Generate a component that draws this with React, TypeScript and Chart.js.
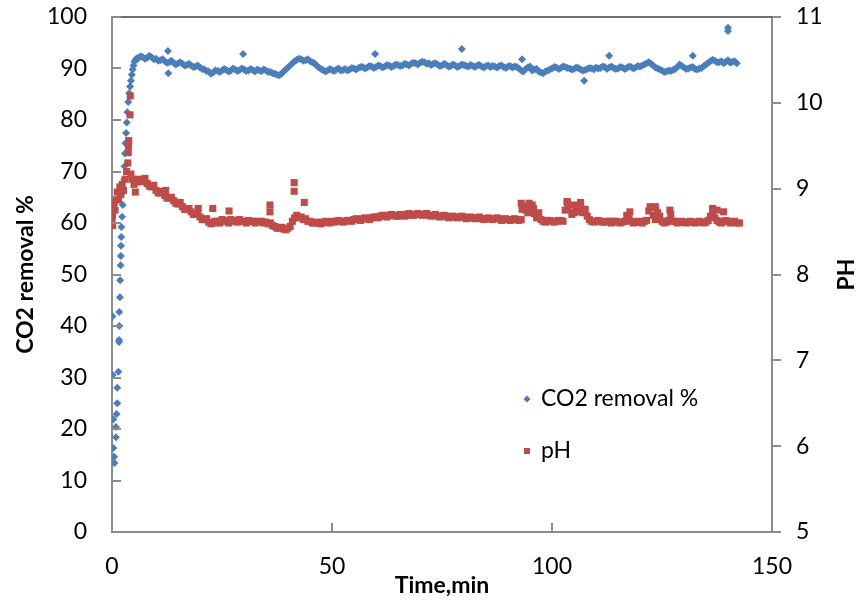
import React, { useEffect, useRef } from 'react';
import { Chart, registerables } from 'chart.js';

Chart.register(...registerables);

const FONT = 'Lato, "Open Sans", sans-serif';
const BLUE = '#4A7EBB';
const RED = '#BE4B48';
const AXIS = '#8C8C8C';

// CO2 removal (%) during start-up (minutes, value)
const startTimeCO2 = [
  0.0, 0.05, 0.15, 0.3, 0.3, 0.5, 0.55, 0.9, 0.9, 1.05, 1.2, 1.2, 1.45, 1.6, 1.6, 1.65, 1.65, 1.8, 1.85,
  1.95, 2.0, 2.05, 2.1, 2.15, 2.3, 2.45, 2.6, 2.75, 2.85, 2.95, 3.05, 3.2, 3.35, 3.5, 3.7, 3.9, 4.1,
  4.3, 4.5, 4.7, 4.9, 5.1, 5.4, 5.7,
];
const startCO2 = [
  42.0, 41.8, 30.5, 21.9, 16.3, 14.6, 13.4, 20.4, 18.4, 22.9, 25.0, 28.0, 31.1, 36.9, 37.3, 40.0, 42.7, 45.6, 48.9,
  51.8, 53.6, 55.6, 57.3, 59.2, 61.2, 63.5, 66.0, 68.5, 71.0, 73.5, 75.5, 77.5, 79.5, 81.5, 83.5, 85.2, 86.5,
  87.6, 88.8, 89.8, 90.6, 91.3, 91.8, 92.0,
];

// Readings on the whole minute, from minute 6 to minute 142
const firstMinute = 6;
const minuteCO2 = [
  92.0, 92.2, 92.1, 92.2, 91.9, 91.6, 91.4, 91.2, 91.1, 91.0, // 6-15
  90.9, 90.7, 90.6, 90.4, 90.2, 89.8, 89.4, 89.2, 89.5, 89.6, // 16-25
  89.7, 89.6, 89.8, 89.7, 89.8, 89.6, 89.7, 89.8, 89.5, 89.6, // 26-35
  89.3, 89.0, 88.7, 89.4, 90.2, 91.0, 91.7, 91.8, 91.6, 91.4, // 36-45
  91.0, 90.2, 89.7, 89.6, 89.7, 89.8, 89.6, 89.9, 89.8, 90.0, // 46-55
  90.1, 90.3, 90.2, 90.4, 90.3, 90.5, 90.4, 90.6, 90.5, 90.7, // 56-65
  90.6, 90.8, 90.9, 91.0, 91.1, 91.2, 91.0, 90.9, 90.8, 90.6, // 66-75
  90.7, 90.5, 90.6, 90.5, 90.7, 90.4, 90.5, 90.6, 90.4, 90.5, // 76-85
  90.3, 90.4, 90.5, 90.3, 90.4, 90.2, 90.3, 89.6, 89.9, 90.4, // 86-95
  89.8, 89.4, 89.1, 89.6, 90.0, 90.2, 90.1, 90.3, 90.0, 89.9, // 96-105
  90.1, 89.6, 89.9, 90.0, 90.2, 90.1, 90.3, 90.2, 90.1, 90.0, // 106-115
  90.2, 90.1, 90.3, 90.2, 90.4, 90.8, 91.2, 90.6, 90.0, 89.6, // 116-125
  89.4, 89.5, 89.9, 90.8, 90.2, 90.0, 90.3, 89.8, 90.1, 90.8, // 126-135
  91.4, 91.5, 91.2, 91.0, 91.6, 91.3, 91.0,                   // 136-142
];
// Readings on the half minute, from 6.5 to 141.5
const halfMinuteCO2 = [
  92.4, 91.9, 92.5, 91.8, 91.5, 91.8, 91.1, 91.5, 90.8, 91.2, // 6.5-15.5
  90.6, 90.9, 90.3, 90.6, 89.9, 89.5, 89.0, 89.6, 89.3, 89.9, // 16.5-25.5
  89.4, 90.0, 89.5, 90.0, 89.5, 89.9, 89.4, 89.6, 89.8, 89.3, // 26.5-35.5
  89.1, 88.8, 89.0, 89.8, 90.6, 91.4, 91.9, 91.5, 91.8, 91.2, // 36.5-45.5
  90.6, 89.9, 89.4, 89.9, 89.5, 90.0, 89.7, 89.6, 90.1, 89.8, // 46.5-55.5
  90.3, 90.0, 90.5, 90.1, 90.6, 90.2, 90.7, 90.3, 90.8, 90.5, // 56.5-65.5
  90.9, 90.6, 91.1, 90.8, 91.3, 90.9, 90.7, 91.0, 90.5, 90.9, // 66.5-75.5
  90.4, 90.8, 90.3, 90.8, 90.5, 90.7, 90.3, 90.7, 90.2, 90.6, // 76.5-85.5
  90.5, 90.2, 90.6, 90.1, 90.5, 90.4, 90.0, 89.4, 90.2, 89.6, // 86.5-95.5
  89.9, 89.2, 89.4, 89.8, 90.3, 89.9, 90.4, 90.1, 89.8, 90.2, // 96.5-105.5
  89.8, 89.7, 90.1, 89.8, 90.0, 90.4, 89.9, 90.4, 89.9, 90.3, // 106.5-115.5
  89.9, 90.4, 90.0, 90.5, 90.6, 91.0, 90.9, 90.2, 89.8, 89.3, // 116.5-125.5
  89.6, 89.7, 90.3, 90.5, 89.9, 90.2, 89.9, 90.0, 90.5, 91.1, // 126.5-135.5
  91.7, 91.2, 91.4, 91.3, 91.1, 91.4,                         // 136.5-141.5
];

// Isolated CO2 readings off the main trend
const strayTimeCO2 = [12.7, 12.8, 29.8, 59.8, 79.5, 93.2, 107.3, 113.0, 132.0, 140.0, 140.0];
const strayCO2 = [93.4, 89.1, 92.8, 92.8, 93.8, 91.8, 87.6, 92.5, 92.5, 97.9, 97.3];

// pH during start-up
const startTimePH = [
  0.0, 0.0, 0.1, 0.15, 0.3, 0.5, 0.7, 1.0, 1.2, 1.5, 1.8, 2.0, 2.3, 2.6, 3.0, 3.3, 3.6, 3.7,
  3.75, 3.8, 4.1, 4.15, 4.3, 4.6, 5.0, 5.3, 5.6,
];
const startPH = [
  8.63, 8.75, 8.69, 8.57, 8.78, 8.84, 8.75, 8.87, 8.96, 8.87, 9.02, 8.93, 9.05, 8.98, 9.11, 9.2, 9.3, 9.42,
  9.5, 9.56, 9.86, 10.08, 9.17, 9.11, 9.05, 8.96, 9.08,
];

// pH on the whole minute, from minute 6 to minute 142
const minutePH = [
  9.11, 9.09, 9.06, 9.02, 8.98, 8.95, 8.92, 8.89, 8.86, 8.82, // 6-15
  8.79, 8.76, 8.73, 8.70, 8.67, 8.64, 8.61, 8.60, 8.62, 8.64, // 16-25
  8.63, 8.64, 8.63, 8.64, 8.62, 8.63, 8.62, 8.62, 8.62, 8.61, // 26-35
  8.60, 8.56, 8.54, 8.53, 8.54, 8.62, 8.69, 8.67, 8.65, 8.62, // 36-45
  8.60, 8.60, 8.61, 8.61, 8.62, 8.62, 8.62, 8.62, 8.63, 8.64, // 46-55
  8.64, 8.65, 8.65, 8.66, 8.67, 8.68, 8.68, 8.69, 8.69, 8.68, // 56-65
  8.69, 8.70, 8.69, 8.70, 8.70, 8.70, 8.69, 8.69, 8.68, 8.68, // 66-75
  8.68, 8.67, 8.67, 8.67, 8.67, 8.66, 8.66, 8.66, 8.65, 8.65, // 76-85
  8.65, 8.65, 8.65, 8.64, 8.64, 8.64, 8.64, 8.64, 8.75, 8.78, // 86-95
  8.71, 8.72, 8.62, 8.63, 8.62, 8.62, 8.63, 8.75, 8.81, 8.72, // 96-105
  8.78, 8.72, 8.68, 8.62, 8.62, 8.62, 8.61, 8.62, 8.62, 8.61, // 106-115
  8.61, 8.69, 8.62, 8.61, 8.61, 8.62, 8.74, 8.69, 8.72, 8.62, // 116-125
  8.61, 8.70, 8.62, 8.61, 8.61, 8.61, 8.61, 8.61, 8.61, 8.61, // 126-135
  8.68, 8.66, 8.61, 8.62, 8.62, 8.61, 8.60,                   // 136-142
];
// pH on the half minute, from 6.5 to 141.5
const halfMinutePH = [
  9.08, 9.12, 9.03, 9.04, 8.95, 8.97, 8.89, 8.90, 8.83, 8.84, // 6.5-15.5
  8.76, 8.77, 8.70, 8.71, 8.64, 8.65, 8.59, 8.62, 8.60, 8.62, // 16.5-25.5
  8.60, 8.62, 8.61, 8.62, 8.60, 8.62, 8.60, 8.61, 8.60, 8.59, // 26.5-35.5
  8.57, 8.54, 8.55, 8.52, 8.56, 8.66, 8.66, 8.64, 8.62, 8.60, // 36.5-45.5
  8.61, 8.59, 8.62, 8.60, 8.61, 8.63, 8.61, 8.63, 8.62, 8.65, // 46.5-55.5
  8.63, 8.66, 8.64, 8.67, 8.66, 8.69, 8.67, 8.70, 8.68, 8.70, // 56.5-65.5
  8.68, 8.71, 8.69, 8.71, 8.69, 8.71, 8.68, 8.70, 8.67, 8.69, // 66.5-75.5
  8.66, 8.68, 8.66, 8.68, 8.65, 8.67, 8.65, 8.67, 8.64, 8.66, // 76.5-85.5
  8.64, 8.66, 8.63, 8.65, 8.63, 8.65, 8.63, 8.80, 8.72, 8.81, // 86.5-95.5
  8.66, 8.64, 8.61, 8.63, 8.61, 8.63, 8.62, 8.84, 8.70, 8.79, // 96.5-105.5
  8.73, 8.76, 8.64, 8.61, 8.63, 8.61, 8.62, 8.60, 8.62, 8.60, // 106.5-115.5
  8.62, 8.65, 8.60, 8.62, 8.60, 8.63, 8.78, 8.64, 8.68, 8.60, // 116.5-125.5
  8.63, 8.62, 8.60, 8.62, 8.60, 8.62, 8.60, 8.62, 8.60, 8.63, // 126.5-135.5
  8.73, 8.63, 8.60, 8.63, 8.60, 8.62,                         // 136.5-141.5
];

// Short pH excursions
const spikeTimePH = [
  12.2, 19.6, 22.9, 26.6, 35.9, 35.9, 41.4, 41.4, 43.7, 93.0, 93.2, 94.8, 95.8, 103.4, 103.6, 105.5,
  106.5, 107.5, 117.7, 122.3, 123.5, 126.8, 136.5, 137.5, 139.0, 142.6,
];
const spikePH = [
  8.98, 8.77, 8.77, 8.74, 8.81, 8.73, 9.07, 8.97, 8.84, 8.83, 8.76, 8.83, 8.77, 8.85, 8.77, 8.81,
  8.84, 8.75, 8.73, 8.79, 8.79, 8.75, 8.77, 8.75, 8.73, 8.60,
];

const xTicks = [0, 50, 100, 150];

type Pt = { x: number; y: number };

function buildPoints(
  startT: number[],
  startV: number[],
  perMinute: number[],
  perHalfMinute: number[],
  extraT: number[],
  extraV: number[],
): Pt[] {
  const pts: Pt[] = [];
  startT.forEach((t, i) => pts.push({ x: t, y: startV[i] }));
  perMinute.forEach((v, i) => pts.push({ x: firstMinute + i, y: v }));
  perHalfMinute.forEach((v, i) => pts.push({ x: firstMinute + 0.5 + i, y: v }));
  extraT.forEach((t, i) => pts.push({ x: t, y: extraV[i] }));
  return pts;
}

// Inward tick marks on the left and bottom axes, the frame line along the top,
// the secondary axis title and the legend
const frameDecor = {
  id: 'frameDecor',
  afterDatasetsDraw(chart: any) {
    const { ctx, chartArea, scales } = chart;
    const { left, right, top, bottom } = chartArea;
    ctx.save();
    ctx.strokeStyle = AXIS;
    ctx.lineWidth = 2;
    scales.y.ticks.forEach((t: any) => {
      const py = Math.round(scales.y.getPixelForValue(t.value));
      ctx.beginPath();
      ctx.moveTo(left, py);
      ctx.lineTo(left + 9, py);
      ctx.stroke();
    });
    scales.x.ticks.forEach((t: any) => {
      const px = Math.round(scales.x.getPixelForValue(t.value));
      ctx.beginPath();
      ctx.moveTo(px, bottom);
      ctx.lineTo(px, bottom - 9);
      ctx.stroke();
    });
    ctx.strokeStyle = '#404040';
    ctx.lineWidth = 1.5;
    ctx.beginPath();
    ctx.moveTo(left + 9, top);
    ctx.lineTo(right, top);
    ctx.stroke();
    ctx.restore();
  },
  afterDraw(chart: any) {
    const { ctx, chartArea } = chart;
    ctx.save();
    ctx.font = `bold 23px ${FONT}`;
    ctx.fillStyle = '#000';
    ctx.textAlign = 'center';
    ctx.textBaseline = 'middle';
    ctx.translate(847, (chartArea.top + chartArea.bottom) / 2);
    ctx.rotate(-Math.PI / 2);
    ctx.fillText('PH', 0, 0);
    ctx.restore();

    ctx.save();
    ctx.font = `23px ${FONT}`;
    ctx.textAlign = 'left';
    ctx.textBaseline = 'middle';
    const items = [
      { label: 'CO2 removal %', color: BLUE, shape: 'diamond', y: 399 },
      { label: 'pH', color: RED, shape: 'square', y: 451 },
    ];
    items.forEach((it) => {
      ctx.fillStyle = it.color;
      ctx.beginPath();
      if (it.shape === 'diamond') {
        ctx.moveTo(527, it.y - 3.5);
        ctx.lineTo(530.5, it.y);
        ctx.lineTo(527, it.y + 3.5);
        ctx.lineTo(523.5, it.y);
        ctx.closePath();
      } else {
        ctx.rect(524, it.y - 3, 6, 6);
      }
      ctx.fill();
      ctx.fillStyle = '#000';
      ctx.fillText(it.label, 541, it.y);
    });
    ctx.restore();
  },
};

// Fix the axis boxes so the plot area sits at a set place on the canvas
const fixVertical = (width: number) => (s: any) => {
  s.width = width;
  s.paddingTop = 0;
  s.paddingBottom = 0;
};
const fixHorizontal = (height: number) => (s: any) => {
  s.height = height;
  s.paddingLeft = 0;
  s.paddingRight = 0;
};

export default function App() {
  const canvasRef = useRef<HTMLCanvasElement>(null);

  useEffect(() => {
    if (!canvasRef.current) return;
    const co2Points = buildPoints(startTimeCO2, startCO2, minuteCO2, halfMinuteCO2, strayTimeCO2, strayCO2);
    const phPoints = buildPoints(startTimePH, startPH, minutePH, halfMinutePH, spikeTimePH, spikePH);

    const chart = new Chart(canvasRef.current, {
      type: 'scatter',
      data: {
        datasets: [
          {
            label: 'CO2 removal %',
            data: co2Points,
            yAxisID: 'y',
            order: 2,
            pointStyle: 'rectRot',
            pointRadius: 4,
            pointHoverRadius: 4,
            backgroundColor: BLUE,
            borderColor: BLUE,
            borderWidth: 0,
          },
          {
            label: 'pH',
            data: phPoints,
            yAxisID: 'y1',
            order: 1,
            pointStyle: 'rect',
            pointRadius: 5,
            pointHoverRadius: 5,
            backgroundColor: RED,
            borderColor: RED,
            borderWidth: 0,
          },
        ],
      },
      options: {
        responsive: false,
        animation: false,
        layout: { autoPadding: false, padding: { top: 17, left: 0, right: 0, bottom: 0 } },
        plugins: {
          legend: { display: false },
          tooltip: { enabled: false },
        },
        scales: {
          x: {
            type: 'linear',
            min: 0,
            max: 150,
            afterBuildTicks: (s: any) => {
              s.ticks = xTicks.map((v) => ({ value: v }));
            },
            afterFit: fixHorizontal(71),
            grid: { display: false, drawTicks: false },
            border: { display: true, color: AXIS, width: 2 },
            ticks: { color: '#000', font: { family: FONT, size: 23 }, padding: 21 },
            title: {
              display: true,
              text: 'Time,min',
              color: '#000',
              font: { family: FONT, size: 23, weight: 'bold' },
              padding: { top: 0, bottom: 4 },
            },
          },
          y: {
            type: 'linear',
            position: 'left',
            min: 0,
            max: 100,
            ticks: { stepSize: 10, color: '#000', font: { family: FONT, size: 23 }, padding: 25 },
            afterFit: fixVertical(112),
            grid: { display: false, drawTicks: false },
            border: { display: true, color: AXIS, width: 2 },
            title: {
              display: true,
              text: 'CO2 removal %',
              color: '#000',
              font: { family: FONT, size: 23, weight: 'bold' },
              padding: { top: 12, bottom: 0 },
            },
          },
          y1: {
            type: 'linear',
            position: 'right',
            min: 5,
            max: 11,
            ticks: { stepSize: 1, color: '#000', font: { family: FONT, size: 23 }, padding: 15 },
            afterFit: fixVertical(90),
            grid: {
              display: true,
              drawOnChartArea: false,
              drawTicks: true,
              tickLength: 9,
              color: AXIS,
              lineWidth: 2,
            },
            border: { display: true, color: AXIS, width: 2 },
          },
        },
      },
      plugins: [frameDecor],
    });

    return () => chart.destroy();
  }, []);

  return (
    <div style={{ position: 'fixed', left: 0, top: 0, width: 862, height: 603, background: '#fff' }}>
      <canvas ref={canvasRef} width={862} height={603} style={{ display: 'block' }} />
    </div>
  );
}
